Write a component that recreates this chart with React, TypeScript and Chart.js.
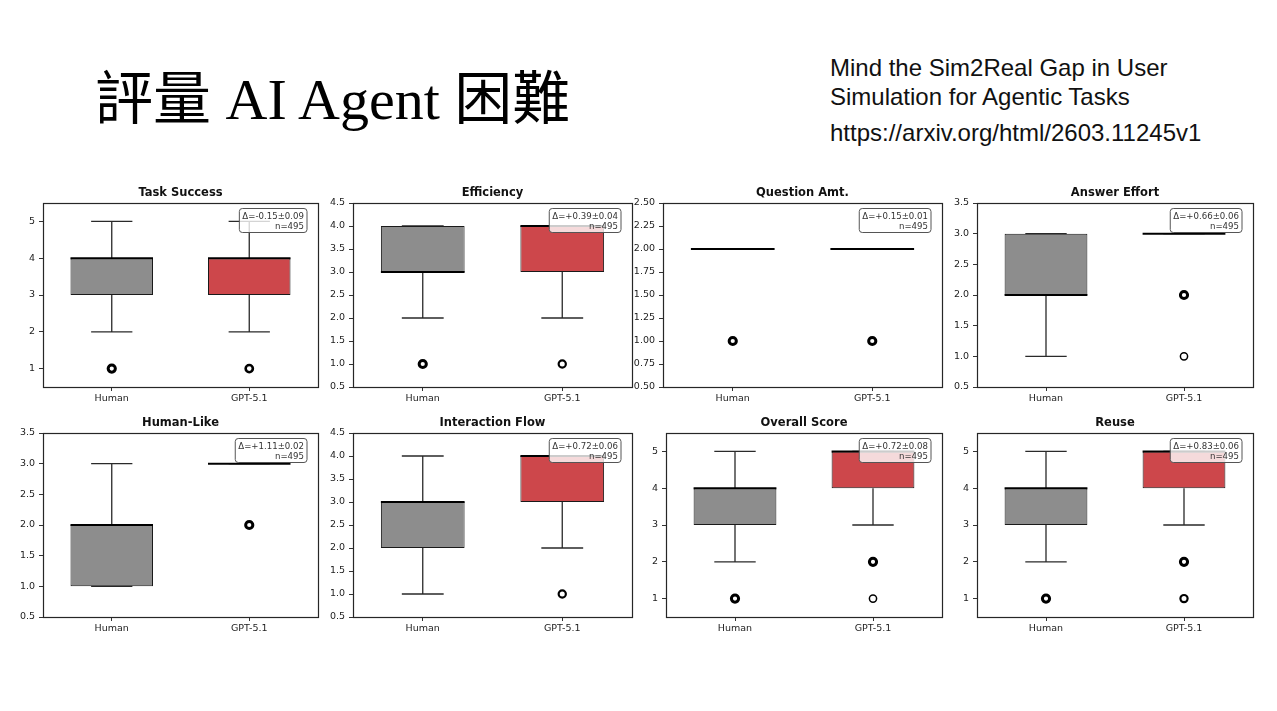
import React, { useEffect, useRef } from "react";
import { Chart, registerables } from "chart.js";

Chart.register(...registerables);

// ---------------- data ----------------
const categories = ["Human", "GPT-5.1"];

const panelTitles = [
  "Task Success",
  "Efficiency",
  "Question Amt.",
  "Answer Effort",
  "Human-Like",
  "Interaction Flow",
  "Overall Score",
  "Reuse",
];

// five-number summaries: [lower whisker, Q1, median, Q3, upper whisker]
const humanStats = [
  [2, 3, 4, 4, 5],
  [2, 3, 3, 4, 4],
  [2, 2, 2, 2, 2],
  [1, 2, 2, 3, 3],
  [1, 1, 2, 2, 3],
  [1, 2, 3, 3, 4],
  [2, 3, 4, 4, 5],
  [2, 3, 4, 4, 5],
];

const gptStats = [
  [2, 3, 4, 4, 5],
  [2, 3, 4, 4, 4],
  [2, 2, 2, 2, 2],
  [3, 3, 3, 3, 3],
  [3, 3, 3, 3, 3],
  [2, 3, 4, 4, 4],
  [3, 4, 5, 5, 5],
  [3, 4, 5, 5, 5],
];

const humanOutliers = [[1], [1], [1], [], [], [], [1], [1]];
const gptOutliers = [[1], [1], [1], [2, 1], [2], [1], [2, 1], [2, 1]];

const deltaTexts = [
  "Δ=-0.15±0.09",
  "Δ=+0.39±0.04",
  "Δ=+0.15±0.01",
  "Δ=+0.66±0.06",
  "Δ=+1.11±0.02",
  "Δ=+0.72±0.06",
  "Δ=+0.72±0.08",
  "Δ=+0.83±0.06",
];
const sampleSizeText = "n=495";

const yMins = [0.5, 0.5, 0.5, 0.5, 0.5, 0.5, 0.5, 0.5];
const yMaxs = [5.5, 4.5, 2.5, 3.5, 3.5, 4.5, 5.5, 5.5];

const yTickLabels = [
  ["1", "2", "3", "4", "5"],
  ["0.5", "1.0", "1.5", "2.0", "2.5", "3.0", "3.5", "4.0", "4.5"],
  ["0.50", "0.75", "1.00", "1.25", "1.50", "1.75", "2.00", "2.25", "2.50"],
  ["0.5", "1.0", "1.5", "2.0", "2.5", "3.0", "3.5"],
  ["0.5", "1.0", "1.5", "2.0", "2.5", "3.0", "3.5"],
  ["0.5", "1.0", "1.5", "2.0", "2.5", "3.0", "3.5", "4.0", "4.5"],
  ["1", "2", "3", "4", "5"],
  ["1", "2", "3", "4", "5"],
];

// ---------------- styles / layout ----------------
const GRAY = "#8d8d8d";
const RED = "#cd474b";
const frames = [
  [43, 203, 318, 387],
  [353, 203, 632, 387],
  [663, 203, 942, 387],
  [977, 203, 1253, 387],
  [43, 433, 318, 617],
  [353, 433, 632, 617],
  [666, 433, 942, 617],
  [977, 433, 1253, 617],
];
const humanOutlierWidths = [[3], [3], [3], [], [], [], [3], [3]];
const gptOutlierWidths = [[2.6], [2.2], [3], [3, 1.5], [3], [2.2], [3, 1.5], [3, 2.2]];

const PAD_LEFT = 43;
const PAD_TOP = 28;
const PAD_RIGHT = 8;
const PAD_BOTTOM = 24;
const FONT = "'DejaVu Sans', sans-serif";

function Panel({ idx }: { idx: number }) {
  const ref = useRef<HTMLCanvasElement>(null);
  const [fx0, fy0, fx1, fy1] = frames[idx];
  const width = fx1 - fx0 + PAD_LEFT + PAD_RIGHT;
  const height = fy1 - fy0 + PAD_TOP + PAD_BOTTOM;

  useEffect(() => {
    const canvas = ref.current;
    if (!canvas) return;
    const stats = [humanStats[idx], gptStats[idx]];
    const tickLabels = yTickLabels[idx];

    const outlierPoints: { x: string; y: number }[] = [];
    const outlierWidths: number[] = [];
    humanOutliers[idx].forEach((v, k) => {
      outlierPoints.push({ x: categories[0], y: v });
      outlierWidths.push(humanOutlierWidths[idx][k]);
    });
    gptOutliers[idx].forEach((v, k) => {
      outlierPoints.push({ x: categories[1], y: v });
      outlierWidths.push(gptOutlierWidths[idx][k]);
    });

    const boxPlugin = {
      id: "boxParts" + idx,
      beforeDatasetsDraw(chart: any) {
        const ctx = chart.ctx;
        const xs = chart.scales.x;
        const ys = chart.scales.y;
        const meta = chart.getDatasetMeta(1);
        ctx.save();
        ctx.strokeStyle = "#2a2a2a";
        ctx.lineWidth = 1.3;
        stats.forEach((s, i) => {
          const x = xs.getPixelForValue(i);
          const bw = meta.data[i].width;
          const cap = bw / 2;
          const yl = ys.getPixelForValue(s[0]);
          const yq1 = ys.getPixelForValue(s[1]);
          const yq3 = ys.getPixelForValue(s[3]);
          const yh = ys.getPixelForValue(s[4]);
          ctx.beginPath();
          ctx.moveTo(x, yq1);
          ctx.lineTo(x, yl);
          ctx.moveTo(x, yq3);
          ctx.lineTo(x, yh);
          ctx.moveTo(x - cap / 2, yl);
          ctx.lineTo(x + cap / 2, yl);
          ctx.moveTo(x - cap / 2, yh);
          ctx.lineTo(x + cap / 2, yh);
          ctx.stroke();
        });
        ctx.restore();
      },
      afterDatasetsDraw(chart: any) {
        const ctx = chart.ctx;
        const xs = chart.scales.x;
        const ys = chart.scales.y;
        const meta = chart.getDatasetMeta(1);
        const area = chart.chartArea;
        ctx.save();
        // medians
        ctx.strokeStyle = "#000";
        ctx.lineWidth = 2;
        stats.forEach((s, i) => {
          const x = xs.getPixelForValue(i);
          const bw = meta.data[i].width;
          const ym = ys.getPixelForValue(s[2]);
          ctx.beginPath();
          ctx.moveTo(x - bw / 2, ym);
          ctx.lineTo(x + bw / 2, ym);
          ctx.stroke();
        });
        // annotation box
        ctx.font = "8.6px " + FONT;
        const padX = 3;
        const lineH = 10;
        const w = Math.max(
          ctx.measureText(deltaTexts[idx]).width,
          ctx.measureText(sampleSizeText).width
        );
        const bw = w + padX * 2;
        const bh = lineH * 2 + 4;
        const bx1 = area.right - 11;
        const bx0 = bx1 - bw;
        const by0 = area.top + 5.5;
        ctx.beginPath();
        (ctx as any).roundRect(bx0, by0, bw, bh, 3);
        ctx.fillStyle = "rgba(255,255,255,0.8)";
        ctx.fill();
        ctx.strokeStyle = "#555";
        ctx.lineWidth = 1;
        ctx.stroke();
        ctx.fillStyle = "#333";
        ctx.textAlign = "right";
        ctx.textBaseline = "alphabetic";
        ctx.fillText(deltaTexts[idx], bx1 - padX, by0 + 10);
        ctx.fillText(sampleSizeText, bx1 - padX, by0 + 10 + lineH);
        ctx.restore();
      },
      afterDraw(chart: any) {
        const ctx = chart.ctx;
        const a = chart.chartArea;
        ctx.save();
        ctx.strokeStyle = "#262626";
        ctx.lineWidth = 1.2;
        ctx.strokeRect(
          Math.round(a.left) + 0.5,
          Math.round(a.top) + 0.5,
          Math.round(a.right - a.left),
          Math.round(a.bottom - a.top)
        );
        ctx.fillStyle = "#111";
        ctx.font = "bold 11.5px " + FONT;
        ctx.textAlign = "center";
        ctx.textBaseline = "middle";
        ctx.fillText(panelTitles[idx], (a.left + a.right) / 2, a.top - 10);
        ctx.restore();
      },
    };

    const chart = new Chart(canvas, {
      type: "bar",
      data: {
        labels: categories,
        datasets: [
          {
            type: "line",
            data: outlierPoints as any,
            showLine: false,
            pointRadius: 3.6,
            pointHoverRadius: 3.6,
            pointBackgroundColor: "#ffffff",
            pointBorderColor: "#000000",
            pointBorderWidth: outlierWidths,
            order: 0,
          } as any,
          {
            type: "bar",
            data: stats.map((s) => [s[1], s[3]]) as any,
            backgroundColor: [GRAY, RED],
            borderColor: "#1a1a1a",
            borderWidth: 1,
            borderSkipped: false,
            barPercentage: 0.6,
            categoryPercentage: 1,
            order: 1,
          } as any,
        ],
      },
      options: {
        responsive: false,
        animation: false,
        events: [],
        layout: {
          padding: { left: 0, top: PAD_TOP, right: PAD_RIGHT, bottom: 0 },
        },
        plugins: {
          legend: { display: false },
          title: { display: false },
          tooltip: { enabled: false },
        },
        scales: {
          x: {
            type: "category",
            offset: true,
            border: { display: false },
            grid: {
              offset: false,
              drawOnChartArea: false,
              drawTicks: true,
              tickLength: 4,
              color: "#333",
            },
            ticks: {
              color: "#222",
              padding: 2,
              font: { family: FONT, size: 9.5 },
              maxRotation: 0,
              autoSkip: false,
            },
            afterFit: (scale: any) => {
              scale.height = PAD_BOTTOM;
            },
          },
          y: {
            type: "linear",
            min: yMins[idx],
            max: yMaxs[idx],
            border: { display: false },
            grid: {
              drawOnChartArea: false,
              drawTicks: true,
              tickLength: 4,
              color: "#333",
            },
            ticks: {
              color: "#222",
              padding: 4,
              font: { family: FONT, size: 9.5 },
              callback: (_v: any, i: number) => tickLabels[i],
            },
            afterBuildTicks: (scale: any) => {
              scale.ticks = tickLabels.map((t) => ({ value: parseFloat(t) }));
            },
            afterFit: (scale: any) => {
              scale.width = PAD_LEFT;
            },
          },
        },
      } as any,
      plugins: [boxPlugin],
    });
    return () => chart.destroy();
  }, [idx]);

  return (
    <canvas
      ref={ref}
      width={width}
      height={height}
      style={{
        position: "absolute",
        left: fx0 - PAD_LEFT,
        top: fy0 - PAD_TOP,
        width,
        height,
      }}
    />
  );
}

const rightTextStyle: React.CSSProperties = {
  position: "absolute",
  left: 830,
  fontFamily: "'Liberation Sans', Arial, sans-serif",
  fontSize: 24,
  lineHeight: "24px",
  color: "#111",
  whiteSpace: "nowrap",
};

export default function App() {
  return (
    <div
      style={{
        position: "absolute",
        left: 0,
        top: 0,
        width: 1277,
        height: 711,
        background: "#ffffff",
        overflow: "hidden",
      }}
    >
      <div
        style={{
          position: "absolute",
          left: 95,
          top: 71,
          fontSize: 58,
          lineHeight: "58px",
          fontFamily: "'Liberation Serif', 'Noto Sans CJK TC', serif",
          color: "#000",
          whiteSpace: "nowrap",
        }}
      >
        評量 AI Agent 困難
      </div>
      <div style={{ ...rightTextStyle, top: 56 }}>Mind the Sim2Real Gap in User</div>
      <div style={{ ...rightTextStyle, top: 85 }}>Simulation for Agentic Tasks</div>
      <div style={{ ...rightTextStyle, top: 121 }}>https://arxiv.org/html/2603.11245v1</div>
      {panelTitles.map((_, i) => (
        <Panel key={i} idx={i} />
      ))}
    </div>
  );
}
